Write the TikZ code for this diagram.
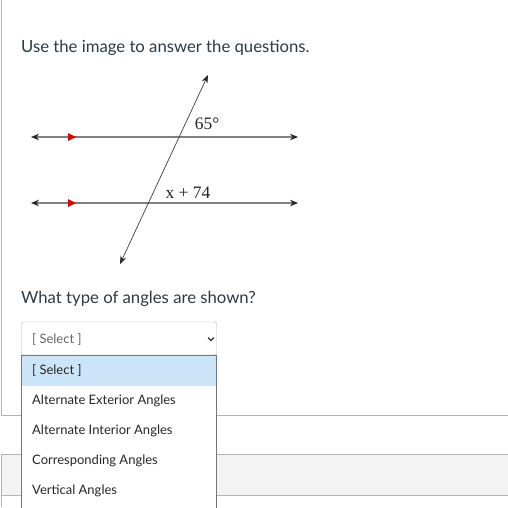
\documentclass[tikz,border=0pt]{standalone}
\usepackage{fontspec}
\setmainfont{Lato}
\newfontfamily\figfont{Liberation Serif}
\usetikzlibrary{arrows.meta}
\definecolor{framegray}{HTML}{B4B4B4}
\definecolor{boxgray}{HTML}{F3F3F3}
\definecolor{selblue}{HTML}{CCE4F7}
\definecolor{listgray}{HTML}{767676}
\definecolor{textdark}{HTML}{2D3B45}
\tikzset{
  parline/.style={draw=black!50, line width=1.3pt, {Stealth[length=8pt,width=6.5pt,black!85]}-{Stealth[length=8pt,width=6.5pt,black!85]}},
  transline/.style={draw=black!75, line width=0.7pt, {Stealth[length=8pt,width=6pt,black!85]}-{Stealth[length=8pt,width=6pt,black!85]}},
  question/.style={anchor=base west, inner sep=0pt, text=textdark, font=\fontsize{16.7}{20}\selectfont},
  option/.style={anchor=base west, inner sep=0pt, text=black!85, font=\fontsize{13}{16}\selectfont},
  figlabel/.style={anchor=base, inner sep=0pt, text=black!85, font=\figfont\fontsize{17.5}{20}\selectfont}
}
\begin{document}
\begin{tikzpicture}[x=1pt,y=-1pt]
\useasboundingbox (0,0) rectangle (508,507);
\fill [white] (0,0) rectangle (508,507);
% question panel
\draw [framegray] (1.5,0)--(1.5,415)--(508,415);
\fill [boxgray] (1.5,454) rectangle (508,495);
\draw [framegray] (508,454)--(1.5,454)--(1.5,507);
\draw [framegray] (1.5,495)--(508,495);
\node [question] (ask) at (21,52) {Use the image to answer the questions.};
% figure
\coordinate (upL) at (31,137);
\coordinate (upR) at (298,137);
\coordinate (loL) at (31,203);
\coordinate (loR) at (298,203);
\coordinate (trTop) at (208,75);
\coordinate (trBot) at (120,264);
\draw [parline] (upL)--(upR);
\draw [parline] (loL)--(loR);
\draw [transline] (trBot)--(trTop);
\foreach \yy in {137,203}{
  \fill [red!90!black] (68,\yy-4)--(76,\yy)--(68,\yy+4)--cycle;
}
\node [figlabel] (angA) at (207,129) {65°};
\node [figlabel] (angB) at (188,198) {x + 74};
\node [question] (kind) at (21,303) {What type of angles are shown?};
% select box
\draw [framegray, rounded corners=2pt, fill=white] (21.5,322)--(216.5,322)--(216.5,355)--(21.5,355)--cycle;
\node [option, text=black!60] (cur) at (32,343) {[ Select ]};
\draw [black!80, line width=1.2pt] (208,337.5)--(211,340.5)--(214,337.5);
% open list
\draw [listgray, fill=white] (21.5,355) rectangle (216.5,510);
\fill [selblue] (22,355.5) rectangle (216,386);
\node [option] (o0) at (32,374) {[ Select ]};
\node [option] (o1) at (32,404) {Alternate Exterior Angles};
\node [option] (o2) at (32,434) {Alternate Interior Angles};
\node [option] (o3) at (32,464) {Corresponding Angles};
\node [option] (o4) at (32,494) {Vertical Angles};
\end{tikzpicture}
\end{document}
